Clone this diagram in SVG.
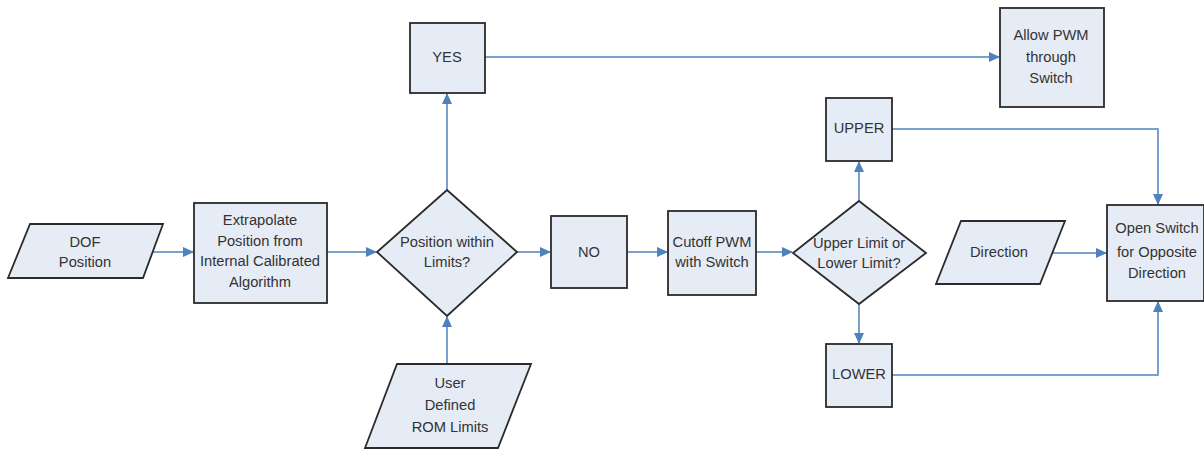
<svg xmlns="http://www.w3.org/2000/svg" width="1204" height="451" viewBox="0 0 1204 451">
<style>
.shape{fill:#e6ecf6;stroke:#2b2b2b;stroke-width:1.8}
.lbl{font-family:"Liberation Sans",Arial,sans-serif;font-size:14.7px;fill:#333;text-anchor:middle}
.conn{fill:none;stroke:#4f81bd;stroke-width:1.5}
</style>
<defs>
<marker id="arr" markerUnits="userSpaceOnUse" markerWidth="11" markerHeight="10" refX="10" refY="5" orient="auto">
<path d="M0,0 L11,5 L0,10 z" fill="#4f81bd"/>
</marker>
</defs>
<rect width="1204" height="451" fill="#fff"/>
<g id="connectors">
<line class="conn" x1="153" y1="252" x2="193" y2="252" marker-end="url(#arr)"/>
<line class="conn" x1="327" y1="252" x2="376" y2="252" marker-end="url(#arr)"/>
<line class="conn" x1="517" y1="252" x2="550" y2="252" marker-end="url(#arr)"/>
<line class="conn" x1="627" y1="252" x2="667" y2="252" marker-end="url(#arr)"/>
<line class="conn" x1="756" y1="252" x2="792" y2="252" marker-end="url(#arr)"/>
<line class="conn" x1="447" y1="190" x2="447" y2="94" marker-end="url(#arr)"/>
<line class="conn" x1="447" y1="364" x2="447" y2="317" marker-end="url(#arr)"/>
<line class="conn" x1="485" y1="57" x2="999" y2="57" marker-end="url(#arr)"/>
<line class="conn" x1="859" y1="201" x2="859" y2="162" marker-end="url(#arr)"/>
<line class="conn" x1="859" y1="304" x2="859" y2="343" marker-end="url(#arr)"/>
<line class="conn" x1="1053" y1="253" x2="1106" y2="253" marker-end="url(#arr)"/>
<polyline class="conn" points="892,129 1158,129 1158,204" marker-end="url(#arr)"/>
<polyline class="conn" points="892,375 1158,375 1158,302" marker-end="url(#arr)"/>
</g>
<g id="dof">
<polygon class="shape" points="30,224 163,224 143,278 8,278"/>
<text class="lbl" x="85" y="247">DOF</text>
<text class="lbl" x="85" y="267">Position</text>
</g>
<g id="extrapolate">
<rect class="shape" x="194" y="203" width="133" height="100"/>
<text class="lbl" x="260" y="225">Extrapolate</text>
<text class="lbl" x="260" y="246">Position from</text>
<text class="lbl" x="260" y="266">Internal Calibrated</text>
<text class="lbl" x="260" y="287">Algorithm</text>
</g>
<g id="within">
<polygon class="shape" points="447,190 517,252 447,316 377,252"/>
<text class="lbl" x="447" y="247">Position within</text>
<text class="lbl" x="447" y="267">Limits?</text>
</g>
<g id="yes">
<rect class="shape" x="410" y="23" width="75" height="70"/>
<text class="lbl" x="447" y="62">YES</text>
</g>
<g id="allow">
<rect class="shape" x="1000" y="8" width="104" height="99"/>
<text class="lbl" x="1051" y="40">Allow PWM</text>
<text class="lbl" x="1051" y="62">through</text>
<text class="lbl" x="1051" y="83">Switch</text>
</g>
<g id="user">
<polygon class="shape" points="397,364 531,364 498,448 365,448"/>
<text class="lbl" x="450" y="388">User</text>
<text class="lbl" x="450" y="410">Defined</text>
<text class="lbl" x="450" y="432">ROM Limits</text>
</g>
<g id="no">
<rect class="shape" x="551" y="216" width="76" height="72"/>
<text class="lbl" x="589" y="257">NO</text>
</g>
<g id="cutoff">
<rect class="shape" x="668" y="211" width="88" height="84"/>
<text class="lbl" x="712" y="247">Cutoff PWM</text>
<text class="lbl" x="712" y="267">with Switch</text>
</g>
<g id="limit">
<polygon class="shape" points="859,201 926,253 859,304 793,253"/>
<text class="lbl" x="859" y="248">Upper Limit or</text>
<text class="lbl" x="859" y="268">Lower Limit?</text>
</g>
<g id="upper">
<rect class="shape" x="826" y="98" width="66" height="63"/>
<text class="lbl" x="859" y="133">UPPER</text>
</g>
<g id="lower">
<rect class="shape" x="826" y="344" width="66" height="63"/>
<text class="lbl" x="859" y="379">LOWER</text>
</g>
<g id="direction">
<polygon class="shape" points="961,221 1065,221 1040,284 936,284"/>
<text class="lbl" x="999" y="257">Direction</text>
</g>
<g id="open">
<rect class="shape" x="1107" y="205" width="97" height="96"/>
<text class="lbl" x="1157" y="233">Open Switch</text>
<text class="lbl" x="1157" y="257">for Opposite</text>
<text class="lbl" x="1157" y="278">Direction</text>
</g>
</svg>
